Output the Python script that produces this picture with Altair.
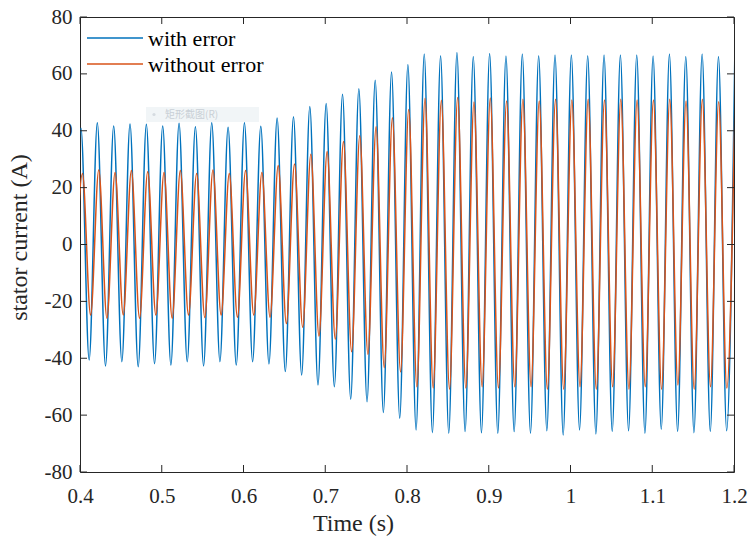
import altair as alt
import numpy as np
import pandas as pd

# Stator current waveforms (A): one trough and one peak per electrical cycle,
# starting with the trough just before t = 0.4 s.
with_err_troughs = [
    -41.0, -40.6, -42.7, -41.2, -43.0, -41.9, -42.4, -41.2, -42.7, -41.2, -42.4, -41.2, -42.0, -44.7,
    -45.9, -49.4, -50.0, -54.4, -55.3, -59.1, -61.1, -65.2, -66.2, -66.4, -65.8, -66.2, -66.4, -65.8,
    -66.4, -65.5, -67.0, -65.2, -66.6, -65.8, -65.5, -66.4, -65.0, -65.8, -66.2, -65.8, -65.5,
]
with_err_peaks = [
    40.9, 42.8, 41.7, 42.4, 42.3, 41.7, 42.6, 41.4, 42.8, 41.2, 42.8, 41.6, 44.5, 44.9,
    48.5, 49.6, 52.8, 54.8, 57.8, 60.7, 63.3, 67.0, 66.4, 67.5, 66.1, 67.2, 66.3,
    67.0, 66.4, 66.6, 66.6, 66.4, 66.6, 66.6, 66.6, 66.3, 67.0, 66.1, 67.0, 66.1, 66.6,
]
no_err_troughs = [
    -25.0, -24.8, -25.9, -24.8, -25.9, -24.8, -25.9, -24.8, -25.7, -24.8, -25.6, -24.8, -25.6, -27.8,
    -29.1, -32.2, -33.3, -37.7, -38.6, -43.3, -44.8, -50.0, -50.5, -50.9, -50.5, -50.0, -50.5, -50.0,
    -50.0, -50.9, -50.9, -50.0, -50.9, -50.0, -50.9, -50.0, -50.9, -49.4, -50.9, -50.0, -50.5,
]
no_err_peaks = [
    25.0, 26.2, 25.3, 26.0, 25.6, 25.3, 26.0, 25.0, 26.2, 25.0, 26.0, 25.3, 27.8, 28.3,
    31.7, 32.7, 36.2, 38.2, 41.4, 44.6, 47.5, 51.4, 50.7, 51.7, 50.1, 51.5, 50.5,
    51.1, 50.5, 51.1, 50.8, 51.1, 50.8, 51.1, 50.8, 50.8, 51.1, 50.5, 51.1, 50.2, 51.0,
]

# Time of the first peak and the cycle period (s) of each waveform (~50 Hz)
with_err_first_peak, with_err_period = 0.4012, 0.019995
no_err_first_peak, no_err_period = 0.4030, 0.019955

series_names = ["with error", "without error"]
series_colors = ["#0072BD", "#D95319"]

x_ticks = [0.4, 0.5, 0.6, 0.7, 0.8, 0.9, 1.0, 1.1, 1.2]
y_ticks = [-80, -60, -40, -20, 0, 20, 40, 60, 80]

W, H = 654, 455
TICK = 7
FONT = "Times New Roman, Liberation Serif, serif"
INK = "#262626"
LINE_W = 1.5


def waveform(troughs, peaks, first_peak, period):
    vals = []
    for tr, pk in zip(troughs, peaks):
        vals += [tr, pk]
    times = first_peak - period / 2 + np.arange(len(vals)) * (period / 2)
    return pd.DataFrame({"t": times, "i": vals})


df_err = waveform(with_err_troughs, with_err_peaks, with_err_first_peak, with_err_period)
df_no = waveform(no_err_troughs, no_err_peaks, no_err_first_peak, no_err_period)

x_scale = alt.Scale(domain=[0.4, 1.2], nice=False, zero=False)
y_scale = alt.Scale(domain=[-80, 80], nice=False, zero=False)

x_axis = alt.Axis(
    values=x_ticks, labelExpr="format(datum.value, '~g')", ticks=False, domain=False, grid=False,
    labelFlush=False, labelOverlap=False,
    labelFont=FONT, labelFontSize=21, labelColor=INK, labelPadding=13,
    title="Time (s)", titleFont=FONT, titleFontSize=24, titleFontWeight="normal", titleColor=INK,
    titleX=273, titleY=58, titleAlign="center", titleBaseline="alphabetic",
)
y_axis = alt.Axis(
    values=y_ticks,
    labelExpr="datum.value < 0 ? '-' + format(-datum.value, 'd') : format(datum.value, 'd')",
    ticks=False, domain=False, grid=False, labelFlush=False, labelOverlap=False,
    labelFont=FONT, labelFontSize=21, labelColor=INK, labelPadding=8,
    title="stator current (A)", titleFont=FONT, titleFontSize=24, titleFontWeight="normal",
    titleColor=INK, titleX=-54, titleY=220, titleAngle=-90, titleAlign="center",
    titleBaseline="alphabetic",
)

X = alt.X("t:Q", scale=x_scale, axis=x_axis)
Y = alt.Y("i:Q", scale=y_scale, axis=y_axis)


def trace(df, color):
    return alt.Chart(df).mark_line(
        color=color, strokeWidth=LINE_W, interpolate="monotone", clip=True
    ).encode(x=X, y=Y)


# Inward tick marks on all four sides of the box
xt = pd.DataFrame({"t": x_ticks})
yt = pd.DataFrame({"i": y_ticks})
tick_style = dict(color=INK, strokeWidth=1)
ticks_bottom = alt.Chart(xt).mark_rule(**tick_style).encode(
    x=X, y=alt.value(H), y2=alt.value(H - TICK))
ticks_top = alt.Chart(xt).mark_rule(**tick_style).encode(
    x=X, y=alt.value(0), y2=alt.value(TICK))
ticks_left = alt.Chart(yt).mark_rule(**tick_style).encode(
    y=Y, x=alt.value(0), x2=alt.value(TICK))
ticks_right = alt.Chart(yt).mark_rule(**tick_style).encode(
    y=Y, x=alt.value(W), x2=alt.value(W - TICK))

# Legend in the upper left corner, without a box
one = pd.DataFrame({"k": [0]})
legend_layers = []
for n, (name, color) in enumerate(zip(series_names, series_colors)):
    ly = 21 + 26 * n
    legend_layers.append(
        alt.Chart(one).mark_rule(color=color, strokeWidth=LINE_W).encode(
            x=alt.value(7), x2=alt.value(63), y=alt.value(ly))
    )
    legend_layers.append(
        alt.Chart(one).mark_text(
            text=name, font=FONT, fontSize=22, color="#000000",
            align="left", baseline="alphabetic",
        ).encode(x=alt.value(68), y=alt.value(ly + 8))
    )

# Faint context-menu label floating over the plot
overlay_box = alt.Chart(one).mark_rect(color="#eef3f6", opacity=0.85).encode(
    x=alt.value(66), x2=alt.value(179), y=alt.value(90), y2=alt.value(105))
overlay_dot = alt.Chart(one).mark_point(
    filled=True, size=10, color="#d5dbe0", opacity=1).encode(
    x=alt.value(74), y=alt.value(97.5))
overlay_text = alt.Chart(one).mark_text(
    text="矩形截图(R)", font="Noto Sans CJK SC", fontSize=10, color="#c9d0d6",
    align="left", baseline="middle").encode(x=alt.value(85), y=alt.value(97.5))

chart = alt.layer(
    overlay_box, overlay_dot, overlay_text,
    trace(df_err, series_colors[0]),
    trace(df_no, series_colors[1]),
    ticks_bottom, ticks_top, ticks_left, ticks_right,
    *legend_layers,
).properties(
    width=W, height=H,
    padding={"left": 80, "top": 17, "right": 16, "bottom": 70},
    autosize=alt.AutoSizeParams(type="none"),
    background="white",
).configure_view(
    stroke=INK, strokeWidth=1
)

chart.save("out.html", embed_options={"renderer": "svg", "actions": False})
